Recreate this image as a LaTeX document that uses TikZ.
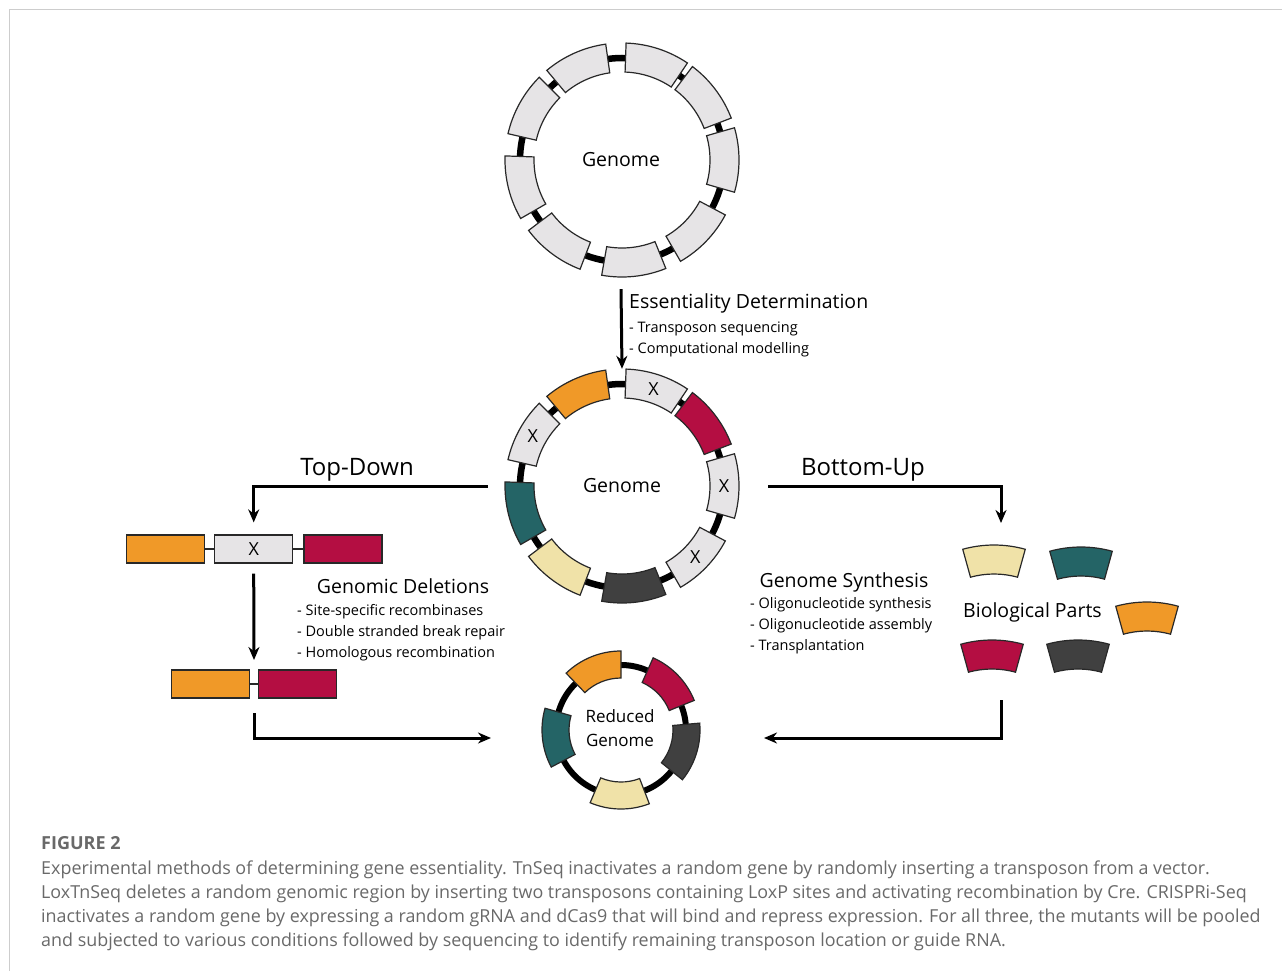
\documentclass[tikz,border=0pt]{standalone}
\usepackage{fontspec}
\setmainfont{Open Sans}
\usetikzlibrary{arrows.meta}
\usetikzlibrary{positioning}
\tikzset{>={Stealth[length=13pt,width=11pt]}}
\definecolor{lgrey}{RGB}{230,228,230}
\definecolor{edgegrey}{RGB}{40,40,40}
\definecolor{orng}{RGB}{240,153,40}
\definecolor{crim}{RGB}{180,14,66}
\definecolor{teal}{RGB}{36,100,102}
\definecolor{pyel}{RGB}{240,226,168}
\definecolor{dgrey}{RGB}{64,64,64}
\definecolor{capgrey}{RGB}{105,105,105}
\definecolor{framegrey}{RGB}{205,205,205}
\tikzset{
  seg/.style={draw=edgegrey, line width=1.2pt},
  flow/.style={->, line width=3pt},
  bar/.style={draw=edgegrey, line width=1.2pt, minimum width=78pt, minimum height=28pt, inner sep=0pt},
  link/.style={draw=edgegrey, line width=1.2pt},
  ring/.style={circle, minimum size=234pt, inner sep=0pt, font=\fontsize{19.5}{24}\selectfont},
  xmark/.style={inner sep=0pt, font=\fontsize{18}{20}\selectfont},
  head/.style={inner sep=0pt, font=\fontsize{24}{28}\selectfont},
  title/.style={inner sep=0pt, font=\fontsize{19.5}{24}\selectfont},
  item/.style={inner sep=0pt, align=left, font=\fontsize{14.5}{21}\selectfont},
  capline/.style={inner sep=0pt, anchor=base west, text=capgrey, font=\fontsize{17.9}{20}\selectfont},
}
% ring block: angle, half width, inner radius, outer radius, colour
\newcommand{\seg}[5]{\filldraw[seg, fill=#5] ({#1-#2}:#4) arc[start angle={#1-#2}, end angle={#1+#2}, radius=#4] -- ({#1+#2}:#3) arc[start angle={#1+#2}, end angle={#1-#2}, radius=#3] -- cycle;}

\begin{document}
\begin{tikzpicture}[x=1pt, y=-1pt]
  \useasboundingbox (0,0) rectangle (1282,971);
  \draw[framegrey, line width=1.5pt] (9.5,971) -- (9.5,9.5) -- (1282,9.5);

  % full genome
  \begin{scope}[shift={(622,160)}, yscale=-1]
    \draw[line width=6.5pt] (0,0) circle[radius=102];
    \foreach \a in {114,72,37,0,-44,-84,-127,-166,151}{
      \seg{\a}{16}{88}{117}{lgrey}
    }
  \end{scope}
  \node[ring] (top) at (621,160) {Genome};

  % genome after essentiality screen
  \begin{scope}[shift={(622,486)}, yscale=-1]
    \draw[line width=6.5pt] (0,0) circle[radius=102];
    \foreach \a/\col in {114/orng,72/lgrey,37/crim,0/lgrey,-44/lgrey,-84/dgrey,-127/pyel,-166/teal,151/lgrey}{
      \seg{\a}{16}{88}{117}{\col}
    }
    \foreach \a [count=\i] in {72,0,-44,151}
      \node[xmark] (x\i) at (\a:102) {X};
  \end{scope}
  \node[ring] (mid) at (622,486) {Genome};

  % reduced genome
  \begin{scope}[shift={(621,730)}, yscale=-1]
    \draw[line width=6pt] (0,0) circle[radius=65];
    \foreach \a/\col in {112/orng,44/crim,-17/dgrey,-91/pyel,186/teal}{
      \seg{\a}{22}{52}{79}{\col}
    }
  \end{scope}
  \node[ring, minimum size=160pt, align=center, font=\fontsize{17}{24}\selectfont] (red) at (620,728) {Reduced\\Genome};

  % biological parts
  \foreach \px/\py/\col in {994/561/pyel, 1081/563/teal, 1147/618/orng, 992/656/crim, 1078/656/dgrey}{
    \begin{scope}[shift={(\px,\py+101)}, yscale=-1]
      \seg{90}{15.5}{88}{117}{\col}
    \end{scope}
  }
  \node[title, anchor=base west] (parts) at (963,617) {Biological Parts};

  % deletion bars
  \node[bar, fill=orng] (lo1) at (165.5,549) {};
  \node[bar, fill=lgrey, right=9pt of lo1, font=\fontsize{18}{20}\selectfont] (del) {X};
  \node[bar, fill=crim, right=10pt of del] (lc1) {};
  \draw[link] (lo1) -- (del);
  \draw[link] (del) -- (lc1);
  \node[bar, fill=orng] (lo2) at (210.5,684) {};
  \node[bar, fill=crim, right=8pt of lo2] (lc2) {};
  \draw[link] (lo2) -- (lc2);
  \coordinate (jn) at (254,684);
  \coordinate (pin) at (1001,535);
  \coordinate (pout) at (1001,700);
  \coordinate (inl) at (491,738);
  \coordinate (inr) at (764,738);

  % connectors
  \draw[flow] ([yshift=-12pt]top.south) -- (mid.north);
  \draw[flow] ([xshift=-17pt]mid.west) -| ([yshift=12pt]del.north);
  \draw[flow] ([yshift=-10pt]del.south) -- ([yshift=24pt]jn);
  \draw[flow] ([yshift=-29pt]jn) |- (inl);
  \draw[flow] ([xshift=29pt]mid.east) -| ([yshift=12pt]pin);
  \draw[flow] (pout) |- (inr);

  % labels
  \node[head, anchor=base] (tdl) at (357,475) {Top-Down};
  \node[head, anchor=base] (bul) at (863,475) {Bottom-Up};
  \node[title, anchor=base west] (ess) at (629,308) {Essentiality Determination};
  \node[item, anchor=base west] (ess1) at (629,332) {- Transposon sequencing};
  \node[item, anchor=base west] (ess2) at (629,353) {- Computational modelling};
  \node[title, anchor=base] (gdl) at (403,593) {Genomic Deletions};
  \node[item, anchor=base west] (gd1) at (297,615) {- Site-specific recombinases};
  \node[item, anchor=base west] (gd2) at (297,636) {- Double stranded break repair};
  \node[item, anchor=base west] (gd3) at (297,657) {- Homologous recombination};
  \node[title, anchor=base] (gsl) at (844,587) {Genome Synthesis};
  \node[item, anchor=base west] (gs1) at (750,608) {- Oligonucleotide synthesis};
  \node[item, anchor=base west] (gs2) at (750,629) {- Oligonucleotide assembly};
  \node[item, anchor=base west] (gs3) at (750,650) {- Transplantation};

  % caption
  \node[capline, font=\bfseries\fontsize{18}{20}\selectfont] (cap0) at (41,849) {FIGURE 2};
  \node[capline] (cap1) at (41,874) {Experimental methods of determining gene essentiality. TnSeq inactivates a random gene by randomly inserting a transposon from a vector.};
  \node[capline] (cap2) at (41,898) {LoxTnSeq deletes a random genomic region by inserting two transposons containing LoxP sites and activating recombination by Cre. CRISPRi-Seq};
  \node[capline] (cap3) at (41,922) {inactivates a random gene by expressing a random gRNA and dCas9 that will bind and repress expression. For all three, the mutants will be pooled};
  \node[capline] (cap4) at (41,946) {and subjected to various conditions followed by sequencing to identify remaining transposon location or guide RNA.};
\end{tikzpicture}
\end{document}
